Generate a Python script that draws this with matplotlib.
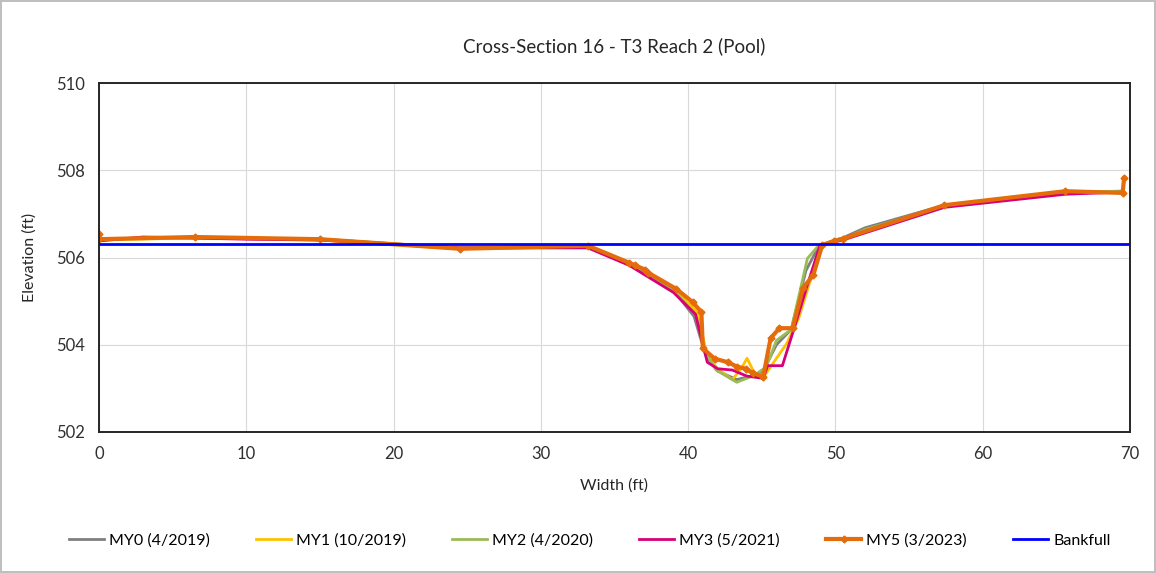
import matplotlib
matplotlib.use('Agg')
import matplotlib.pyplot as plt

plt.rcParams['font.family'] = ['Lato', 'DejaVu Sans']

# survey data: station (ft) and elevation (ft) for each monitoring year
x_my0 = [0, 6.5, 15, 24.5, 33.2, 36, 39, 40.4, 41.2, 42, 43.3, 44.5, 45.1, 46.0, 47.0, 48.0, 48.9, 50.5, 52, 57.4, 65.6, 69.5]
y_my0 = [506.42, 506.46, 506.42, 506.22, 506.26, 505.85, 505.25, 504.65, 503.75, 503.4, 503.2, 503.3, 503.4, 504.0, 504.35, 505.7, 506.28, 506.45, 506.68, 507.2, 507.5, 507.52]

x_my1 = [0, 6.5, 15, 24.5, 33.2, 36, 39, 40.6, 41.3, 42, 43.0, 43.6, 44.0, 44.5, 45.2, 46.7, 47.5, 48.5, 49.0, 50.5, 57.4, 65.6, 69.5]
y_my1 = [506.4, 506.45, 506.4, 506.2, 506.25, 505.86, 505.28, 504.75, 503.75, 503.45, 503.2, 503.45, 503.69, 503.35, 503.3, 504.03, 504.6, 505.7, 506.28, 506.42, 507.2, 507.5, 507.5]

x_my2 = [0, 6.5, 15, 24.5, 33.2, 36, 39, 40.5, 41.2, 41.9, 43.3, 44.5, 45.3, 46.0, 47.0, 48.1, 48.8, 50.5, 52, 57.4, 65.6, 69.5]
y_my2 = [506.42, 506.45, 506.42, 506.22, 506.25, 505.85, 505.25, 504.7, 503.8, 503.42, 503.14, 503.3, 503.49, 504.1, 504.35, 505.98, 506.25, 506.42, 506.64, 507.18, 507.5, 507.52]

x_my3 = [0, 3, 10, 15, 24.5, 33.2, 36, 39, 40.5, 41.3, 42.0, 43.0, 44.0, 45.1, 45.4, 46.4, 47.1, 48.05, 48.95, 50.5, 57.4, 65.6, 69.5]
y_my3 = [506.38, 506.47, 506.42, 506.4, 506.22, 506.22, 505.82, 505.2, 504.7, 503.6, 503.45, 503.42, 503.28, 503.23, 503.52, 503.52, 504.27, 505.32, 506.28, 506.4, 507.15, 507.45, 507.5]

x_my5 = [0, 0, 6.5, 15.0, 24.5, 33.2, 36.0, 36.4, 37.1, 37.3, 39.2, 40.3, 40.9, 41.0, 41.8, 42.7, 43.3, 43.9, 44.4, 45.1, 45.6, 46.2, 47.1, 47.8, 48.5, 49.1, 49.9, 50.5, 57.4, 65.6, 69.5, 69.6]
y_my5 = [506.55, 506.42, 506.47, 506.42, 506.2, 506.27, 505.88, 505.82, 505.72, 505.65, 505.28, 504.98, 504.75, 503.92, 503.68, 503.6, 503.5, 503.45, 503.35, 503.27, 504.15, 504.38, 504.38, 505.3, 505.6, 506.28, 506.38, 506.43, 507.2, 507.52, 507.48, 507.82]

x_bkf = [0, 70]
y_bkf = [506.3, 506.3]

fig = plt.figure(figsize=(11.56, 5.73), dpi=100)
fig.patch.set_edgecolor('#bfbfbf')
fig.patch.set_linewidth(1.5)
ax = fig.add_axes([0.0856, 0.2461, 0.8919, 0.609])

ax.plot(x_my0, y_my0, color='#7f7f7f', lw=2, label='MY0 (4/2019)')
ax.plot(x_my1, y_my1, color='#FFC000', lw=2, label='MY1 (10/2019)')
ax.plot(x_my2, y_my2, color='#9BBB59', lw=2, label='MY2 (4/2020)')
ax.plot(x_my3, y_my3, color='#D6007A', lw=2, label='MY3 (5/2021)')
ax.plot(x_my5, y_my5, color='#E46C0A', lw=3, marker='D', ms=3.5, label='MY5 (3/2023)')
ax.plot(x_bkf, y_bkf, color='#0000FF', lw=2, label='Bankfull', zorder=5)

ax.set_xlim(0, 70)
ax.set_ylim(502, 510)
ax.set_xticks(range(0, 71, 10))
ax.set_yticks([502, 504, 506, 508, 510])
ax.grid(True, color='#d9d9d9', lw=0.8)
ax.set_axisbelow(True)
ax.tick_params(length=0, labelsize=12, pad=10, colors='#303030')
for s in ax.spines.values():
    s.set_color('#262626')
    s.set_linewidth(1.4)

ax.set_title('Cross-Section 16 - T3 Reach 2 (Pool)', fontsize=13.5, color='#262626', pad=22)
ax.set_xlabel('Width (ft)', fontsize=11.5, color='#262626', labelpad=12)
ax.set_ylabel('Elevation (ft)', fontsize=11.5, color='#262626', labelpad=14)

fig.legend(loc='center', bbox_to_anchor=(0.51, 0.056), ncol=6, frameon=False,
           fontsize=11.5, handlelength=2.2, columnspacing=2.9, handletextpad=0.3)

fig.savefig('out.png', dpi=100)
